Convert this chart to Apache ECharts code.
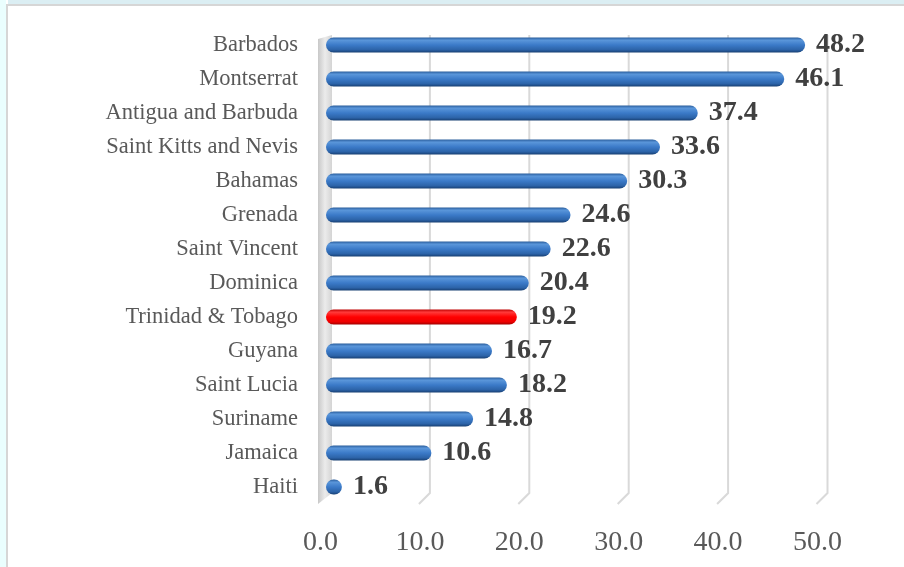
<!DOCTYPE html>
<html>
<head>
<meta charset="utf-8">
<script src="https://cdn.jsdelivr.net/npm/echarts@6/dist/echarts.min.js"></script>
<style>html,body{margin:0;padding:0;background:#fff;}#c{width:904px;height:567px;}</style>
</head>
<body>
<div id="c"></div>
<script>
const categories = ["Barbados","Montserrat","Antigua and Barbuda","Saint Kitts and Nevis","Bahamas","Grenada","Saint Vincent","Dominica","Trinidad & Tobago","Guyana","Saint Lucia","Suriname","Jamaica","Haiti"];
const values = [48.2,46.1,37.4,33.6,30.3,24.6,22.6,20.4,19.2,16.7,18.2,14.8,10.6,1.6];
const highlighted = ["Trinidad & Tobago"];
const xTicks = [0,10,20,30,40,50];

const blueGrad = new echarts.graphic.LinearGradient(0,0,0,1,[
  {offset:0,color:'#2a5d9c'},{offset:0.18,color:'#5a96da'},{offset:0.5,color:'#3b7ac8'},
  {offset:0.82,color:'#2c63a8'},{offset:1,color:'#173f72'}]);
const redGrad = new echarts.graphic.LinearGradient(0,0,0,1,[
  {offset:0,color:'#c00000'},{offset:0.18,color:'#ff3a3a'},{offset:0.5,color:'#ff0000'},
  {offset:0.82,color:'#ee0000'},{offset:1,color:'#a00000'}]);

const barData = values.map((v,i)=>({
  value:v,
  itemStyle:{color: highlighted.includes(categories[i]) ? redGrad : blueGrad}
}));

const chart = echarts.init(document.getElementById('c'));
chart.setOption({
  animation:false,
  backgroundColor:'#ffffff',
  graphic:[
    {type:'rect',shape:{x:0,y:0,width:6,height:567},style:{fill:'#eafefe'},silent:true},
    {type:'rect',shape:{x:8,y:0,width:896,height:4},style:{fill:'#dbeef3'},silent:true},
    {type:'rect',shape:{x:6,y:4,width:2,height:563},style:{fill:'#d6d6d6'},silent:true},
    {type:'rect',shape:{x:6,y:4,width:898,height:2},style:{fill:'#d6d6d6'},silent:true}
  ],
  grid:{left:326,right:81,top:28,bottom:63,containLabel:false},
  xAxis:{
    type:'value',min:0,max:50,interval:10,
    axisLine:{show:false},axisTick:{show:false},splitLine:{show:false},
    axisLabel:{formatter:v=>v.toFixed(1),fontFamily:'Liberation Serif',fontSize:28,color:'#595959',margin:25,padding:[0,11,0,0]}
  },
  yAxis:{
    type:'category',data:categories,inverse:true,
    axisLine:{show:false},axisTick:{show:false},
    axisLabel:{fontFamily:'Liberation Serif',fontSize:22.5,color:'#595959',margin:28}
  },
  series:[
    {
      type:'custom',z:1,silent:true,
      data:xTicks.map(t=>[t]),
      encode:{x:0},
      renderItem:function(params,api){
        const cs = params.coordSys;
        const x = api.coord([api.value(0),0])[0];
        const top = cs.y+7, bot = cs.y+cs.height;
        if(api.value(0)===0){
          return {type:'polygon',shape:{points:[[x-8,top+4],[x+6,top],[x+6,bot-11],[x-8,bot]]},
             style:{fill:new echarts.graphic.LinearGradient(0,0,1,0,[{offset:0,color:'#c8c8c8'},{offset:0.5,color:'#ebebeb'},{offset:1,color:'#d4d4d4'}])}};
        }
        return {type:'polyline',shape:{points:[[x+4.5,top],[x+4.5,bot-11],[x-6.5,bot]]},
          style:{stroke:'#d9d9d9',lineWidth:2,fill:null}};
      }
    },
    {
      type:'bar',z:2,data:barData,barWidth:15,
      itemStyle:{borderRadius:7.5},
      label:{show:true,position:'right',distance:11,formatter:p=>p.value.toFixed(1),
        fontFamily:'Liberation Serif',fontWeight:'bold',fontSize:28,color:'#404040'}
    }
  ]
});
</script>
</body>
</html>
